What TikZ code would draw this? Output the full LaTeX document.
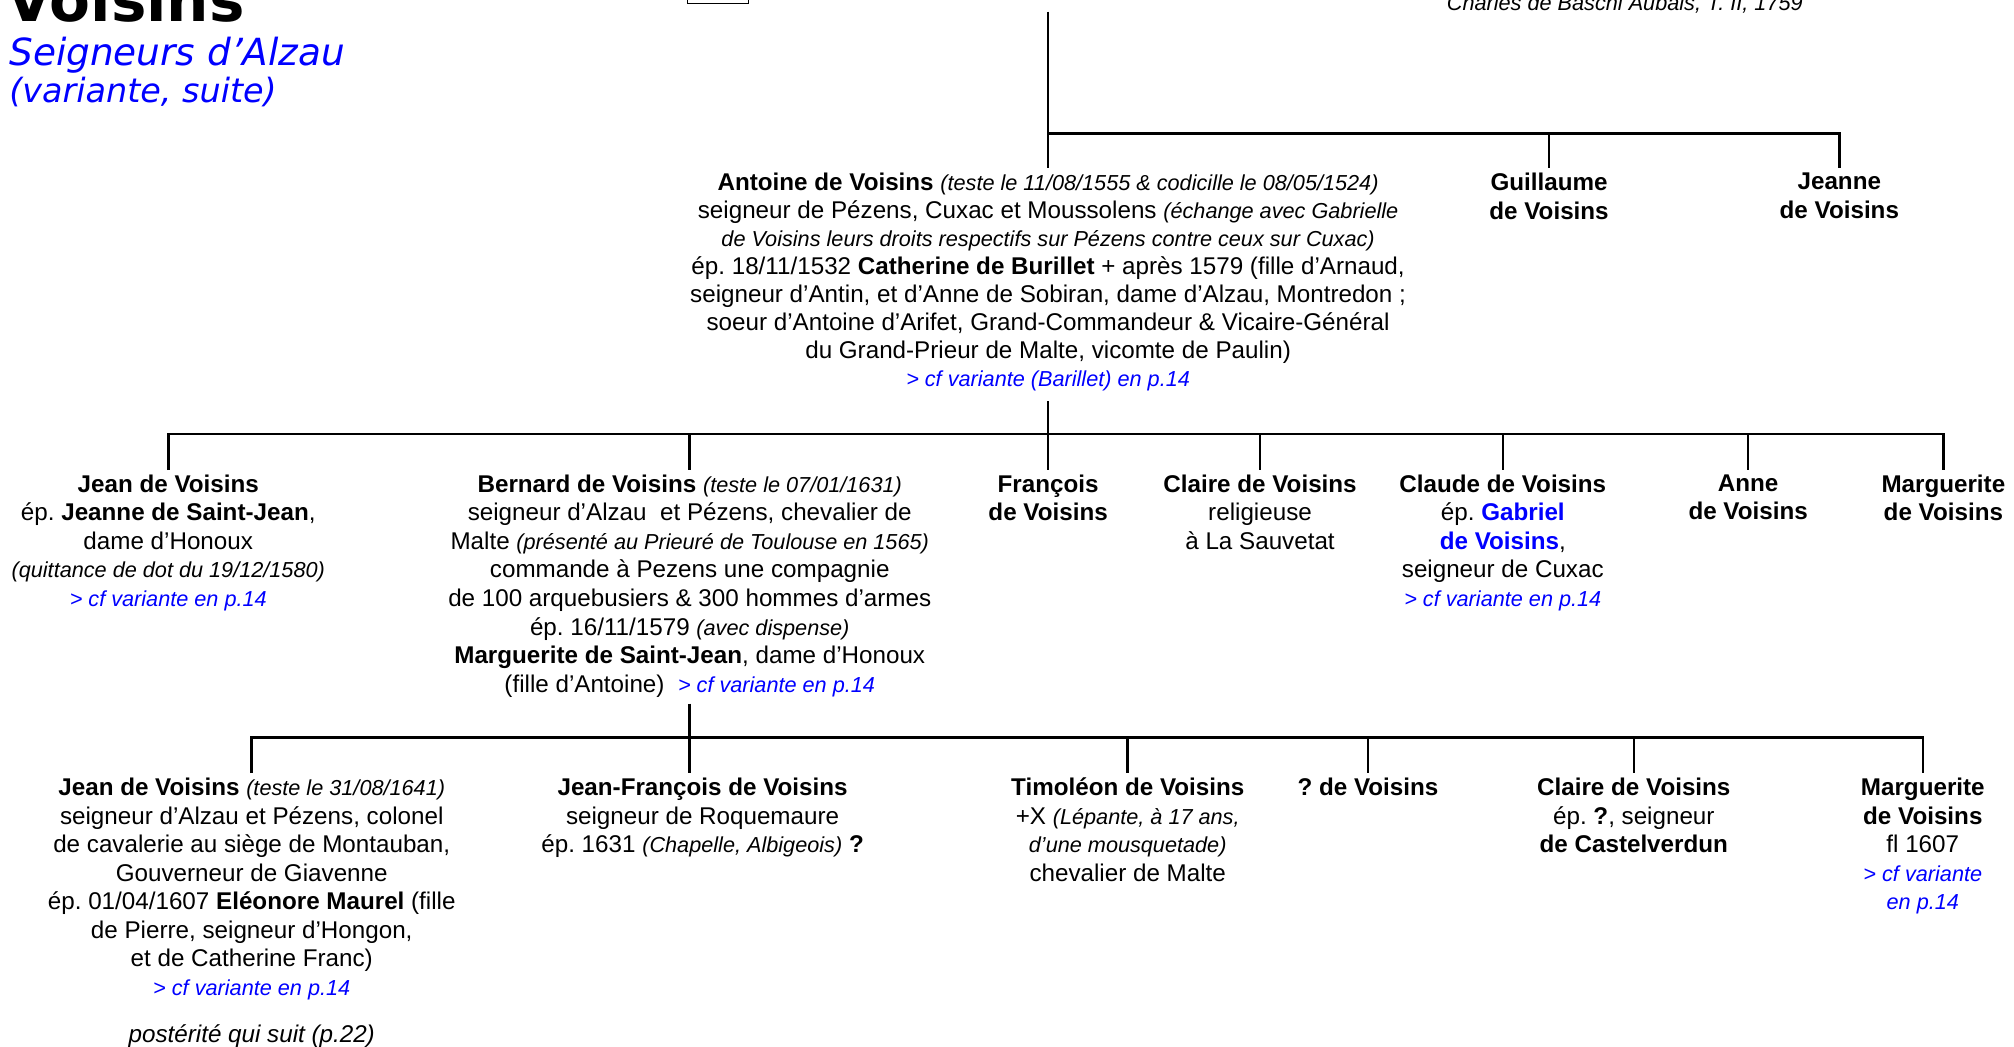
\documentclass[tikz,border=0pt]{standalone}
\usepackage{fontspec}
\setmainfont{Liberation Sans}
\newfontfamily\titlefont{DejaVu Sans}
\usepackage{xcolor}
\usetikzlibrary{positioning,calc}
\frenchspacing

\definecolor{refblue}{RGB}{0,0,255}
\newcommand{\rem}[1]{{\fontsize{12}{15.8}\selectfont\itshape #1}}
\newcommand{\cfref}[1]{{\color{refblue}\rem{#1}}}
\newcommand{\nom}[1]{\textbf{#1}}

\begin{document}
\begin{tikzpicture}[x=0.025cm,y=-0.025cm,
    tree/.style={line width=1.4pt},
    pers/.style={align=center,anchor=north,inner xsep=1pt,inner ysep=2.4pt,font=\fontsize{13.4}{15.8}\selectfont}]
\useasboundingbox (0,0) rectangle (1568,815);
\clip (0,0) rectangle (1568,815);

% Title
\node[anchor=base west,inner sep=0] (titre) at (5,16.5) {\titlefont\bfseries\fontsize{33}{33}\selectfont Voisins};
\node[anchor=base west,inner sep=0,refblue] (sous) at (7,51) {\titlefont\itshape\fontsize{20.7}{24}\selectfont Seigneurs d’Alzau};
\node[anchor=base west,inner sep=0,refblue] (suite) at (7,80) {\titlefont\itshape\fontsize{18.5}{22}\selectfont (variante, suite)};
\node[anchor=base,inner sep=0] (source) at (1265,8.5) {\rem{Charles de Baschi Aubais, T. II, 1759}};
\draw[line width=0.6pt] (535,-5) rectangle (583,3);

% First generation
\node[pers,font=\fontsize{13.4}{15.5}\selectfont] (antoine) at (816,131) {\nom{Antoine de Voisins} \rem{(teste le 11/08/1555 \& codicille le 08/05/1524)}\\
seigneur de Pézens, Cuxac et Moussolens \rem{(échange avec Gabrielle}\\
\rem{de Voisins leurs droits respectifs sur Pézens contre ceux sur Cuxac)}\\
ép. 18/11/1532 \nom{Catherine de Burillet} + après 1579 (fille d’Arnaud,\\
seigneur d’Antin, et d’Anne de Sobiran, dame d’Alzau, Montredon ;\\
soeur d’Antoine d’Arifet, Grand-Commandeur \& Vicaire-Général\\
du Grand-Prieur de Malte, vicomte de Paulin)\\
\cfref{> cf variante (Barillet) en p.14}};
\node[pers] (guillaume) at (1206,131) {\nom{Guillaume}\\\nom{de Voisins}};
\node[pers] (jeanne) at (1432,131) {\nom{Jeanne}\\\nom{de Voisins}};

% Second generation
\node[pers] (jean) at (131,366) {\nom{Jean de Voisins}\\
ép. \nom{Jeanne de Saint-Jean},\\
dame d’Honoux\\
\rem{(quittance de dot du 19/12/1580)}\\
\cfref{> cf variante en p.14}};
\node[pers] (bernard) at (537,366) {\nom{Bernard de Voisins} \rem{(teste le 07/01/1631)}\\
seigneur d’Alzau\ \ et Pézens, chevalier de\\
Malte \rem{(présenté au Prieuré de Toulouse en 1565)}\\
commande à Pezens une compagnie\\
de 100 arquebusiers \& 300 hommes d’armes\\
ép. 16/11/1579 \rem{(avec dispense)}\\
\nom{Marguerite de Saint-Jean}, dame d’Honoux\\
(fille d’Antoine)\ \ \cfref{> cf variante en p.14}};
\node[pers] (francois) at (816,366) {\nom{François}\\\nom{de Voisins}};
\node[pers] (claire) at (981,366) {\nom{Claire de Voisins}\\religieuse\\à La Sauvetat};
\node[pers] (claude) at (1170,366) {\nom{Claude de Voisins}\\
ép. {\color{refblue}\nom{Gabriel}}\\
{\color{refblue}\nom{de Voisins}},\\
seigneur de Cuxac\\
\cfref{> cf variante en p.14}};
\node[pers] (anne) at (1361,366) {\nom{Anne}\\\nom{de Voisins}};
\node[pers] (marguerite) at (1513,366) {\nom{Marguerite}\\\nom{de Voisins}};

% Third generation
\node[pers] (jean3) at (196,602) {\nom{Jean de Voisins} \rem{(teste le 31/08/1641)}\\
seigneur d’Alzau et Pézens, colonel\\
de cavalerie au siège de Montauban,\\
Gouverneur de Giavenne\\
ép. 01/04/1607 \nom{Eléonore Maurel} (fille\\
de Pierre, seigneur d’Hongon,\\
et de Catherine Franc)\\
\cfref{> cf variante en p.14}};
\node[pers,below=0.3cm of jean3] (posterite) {\itshape postérité qui suit (p.22)};
\node[pers] (jf) at (547,602) {\nom{Jean-François de Voisins}\\
seigneur de Roquemaure\\
ép. 1631 \rem{(Chapelle, Albigeois)} \nom{?}};
\node[pers] (timoleon) at (878,602) {\nom{Timoléon de Voisins}\\
+X \rem{(Lépante, à 17 ans,}\\
\rem{d’une mousquetade)}\\
chevalier de Malte};
\node[pers] (inconnu) at (1065,602) {\nom{? de Voisins}};
\node[pers] (claire3) at (1272,602) {\nom{Claire de Voisins}\\
ép. \nom{?}, seigneur\\
\nom{de Castelverdun}};
\node[pers] (marguerite3) at (1497,602) {\nom{Marguerite}\\\nom{de Voisins}\\fl 1607\\
\cfref{> cf variante}\\\cfref{en p.14}};

% Lines
\coordinate (haut) at (816,9);
\coordinate (bar1) at (816,104);
\coordinate (bar2) at (816,338);
\coordinate (bar3) at (537,574);
\draw[tree] (haut) -- (antoine.north);
\draw[tree] (bar1) -| (jeanne.north);
\draw[tree] (bar1 -| guillaume.north) -- (guillaume.north);

\draw[tree,shorten <=3pt] (antoine.south) -- (francois.north);
\draw[tree] (jean.north) |- (bar2) -| (marguerite.north);
\foreach \n in {bernard,claire,claude,anne}
    \draw[tree] (bar2 -| \n.north) -- (\n.north);

\draw[tree,shorten <=1pt] (bernard.south) -- (bernard.south |- jf.north);
\draw[tree] (jean3.north) |- (bar3) -| (marguerite3.north);
\foreach \n in {timoleon,inconnu,claire3}
    \draw[tree] (bar3 -| \n.north) -- (\n.north);
\end{tikzpicture}
\end{document}
